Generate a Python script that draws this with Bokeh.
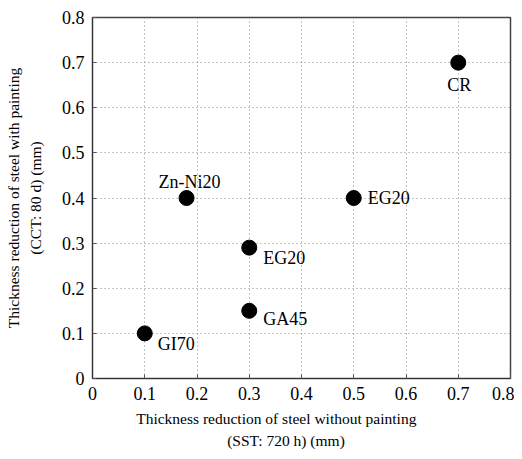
from bokeh.plotting import figure
from bokeh.models import ColumnDataSource, Range1d, FixedTicker
from bokeh.core.properties import value
from bokeh.embed import file_html
from bokeh.resources import INLINE

# data
names = ["CR", "Zn-Ni20", "EG20", "EG20", "GA45", "GI70"]
sst = [0.70, 0.18, 0.50, 0.30, 0.30, 0.10]
cct = [0.70, 0.40, 0.40, 0.29, 0.15, 0.10]
ticks = [0, 0.1, 0.2, 0.3, 0.4, 0.5, 0.6, 0.7, 0.8]

# label placement (style only)
x_off = [1, 3, 14, 14, 14, 13]
y_off = [22, -16, 0, 10, 8, 11]
align = ["center", "center", "left", "left", "left", "left"]

src = ColumnDataSource(dict(x=sst, y=cct, name=names, xo=x_off, yo=y_off, al=align))

FONT = "Liberation Serif"
NB = "\u00a0"

p = figure(width=514, height=451, output_backend="svg", toolbar_location=None,
           x_range=Range1d(0, 0.8), y_range=Range1d(0, 0.8),
           min_border_left=92, min_border_right=4, min_border_top=17, min_border_bottom=71)

p.scatter("x", "y", source=src, size=15, color="black")
p.text("x", "y", text="name", source=src, x_offset="xo", y_offset="yo",
       text_align="al", text_baseline="middle", text_font=value(FONT),
       text_font_size="18px", text_color="black")

for ax in (p.xaxis[0], p.yaxis[0]):
    ax.ticker = FixedTicker(ticks=ticks)
    ax.major_label_overrides = {0: "0"}
    ax.major_label_text_font = FONT
    ax.major_label_text_font_size = "18px"
    ax.major_label_text_color = "black"
    ax.major_label_standoff = 8
    ax.axis_label_text_font = FONT
    ax.axis_label_text_font_size = "15.5px"
    ax.axis_label_text_font_style = "normal"
    ax.axis_label_text_color = "black"
    ax.axis_label_text_line_height = 1.3
    ax.major_tick_in = 4
    ax.major_tick_out = 0
    ax.minor_tick_line_color = None
    ax.axis_line_color = "#333333"
    ax.major_tick_line_color = "#555555"

p.xaxis.axis_label = ("Thickness reduction of steel without painting" + NB * 13 +
                      "\n(SST: 720 h) (mm)" + NB * 8)
p.yaxis.axis_label = "Thickness reduction of steel with painting\n(CCT: 80 d) (mm)"
p.xaxis.axis_label_standoff = 7
p.yaxis.axis_label_standoff = 15

p.grid.grid_line_color = "#888888"
p.grid.grid_line_dash = "1 3"
p.grid.grid_line_width = 1

p.outline_line_color = "#444444"
p.outline_line_width = 1.5

open("out.html", "w").write(file_html(p, INLINE))
